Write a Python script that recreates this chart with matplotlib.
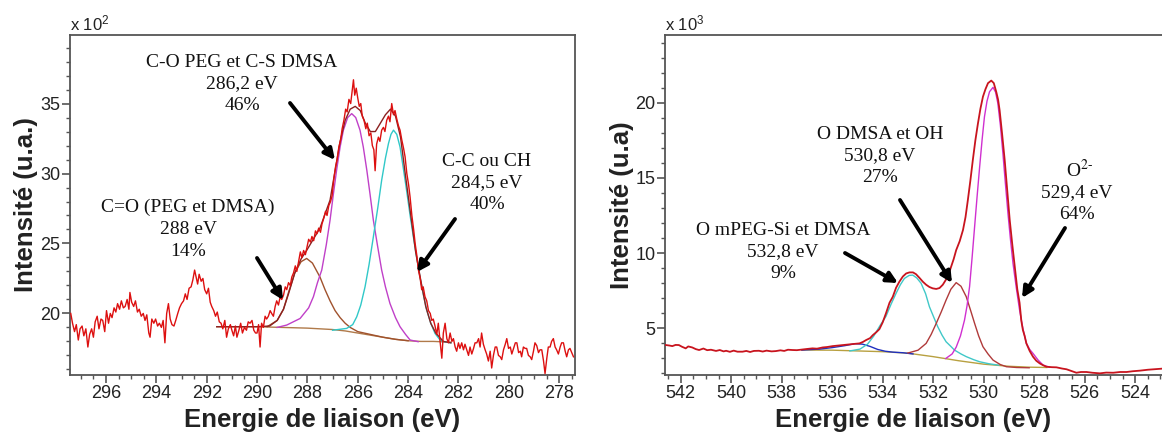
import matplotlib
matplotlib.use("Agg")
import matplotlib.pyplot as plt
from matplotlib.ticker import MultipleLocator

# ============================================================
#  DATA (C 1s left, O 1s right)
#  intensities in x10^2 (left) and x10^3 (right) counts
# ============================================================

# C 1s raw spectrum (energy eV, intensity)
c1s_raw = [
    (297.40, 20.0), (297.33, 19.3), (297.25, 18.7), (297.18, 19.2), (297.10, 18.1), (297.03, 18.9),
    (296.95, 19.1), (296.88, 18.4), (296.80, 18.9), (296.72, 17.6), (296.65, 18.5), (296.57, 18.9),
    (296.50, 18.3), (296.43, 19.4), (296.35, 19.8), (296.28, 18.9), (296.20, 19.6), (296.13, 19.5),
    (296.05, 18.7), (295.98, 20.2), (295.90, 19.3), (295.83, 20.0), (295.76, 19.7), (295.68, 20.4),
    (295.61, 20.1), (295.54, 20.7), (295.46, 20.3), (295.39, 20.9), (295.31, 20.4), (295.24, 20.5),
    (295.16, 21.0), (295.09, 20.3), (295.05, 21.5), (294.98, 20.8), (294.90, 20.5), (294.83, 20.9),
    (294.75, 20.1), (294.68, 20.3), (294.60, 19.8), (294.52, 20.0), (294.45, 19.5), (294.38, 19.9),
    (294.30, 18.6), (294.25, 18.3), (294.18, 19.6), (294.10, 19.3), (294.03, 19.6), (293.95, 19.1),
    (293.88, 19.3), (293.80, 19.0), (293.73, 19.5), (293.66, 17.9), (293.59, 20.0), (293.52, 20.7),
    (293.45, 19.6), (293.38, 19.2), (293.30, 19.1), (293.23, 19.5), (293.15, 20.0), (293.08, 20.4),
    (293.00, 20.7), (292.92, 20.9), (292.85, 21.4), (292.78, 21.0), (292.70, 21.8), (292.62, 21.9),
    (292.55, 22.4), (292.48, 23.1), (292.42, 22.6), (292.36, 22.1), (292.30, 22.8), (292.22, 22.3),
    (292.15, 22.5), (292.08, 21.7), (292.00, 21.4), (291.93, 21.8), (291.86, 20.8), (291.80, 20.5),
    (291.72, 20.2), (291.65, 19.8), (291.58, 20.1), (291.50, 19.4), (291.43, 19.3), (291.36, 18.9),
    (291.28, 19.5), (291.21, 18.3), (291.14, 18.9), (291.06, 19.2), (291.00, 18.8), (290.93, 18.4),
    (290.86, 19.1), (290.80, 18.3), (290.72, 18.8), (290.65, 19.3), (290.58, 18.6), (290.50, 19.0),
    (290.42, 18.8), (290.35, 19.4), (290.28, 19.3), (290.20, 19.5), (290.13, 18.8), (290.06, 18.6),
    (290.00, 18.6), (289.94, 19.2), (289.88, 17.6), (289.82, 19.3), (289.75, 19.0), (289.68, 19.8),
    (289.62, 19.6), (289.55, 19.8), (289.48, 20.2), (289.42, 20.0), (289.35, 19.8), (289.28, 20.5),
    (289.22, 20.9), (289.15, 20.6), (289.08, 21.2), (289.02, 21.0), (288.95, 21.3), (288.88, 21.9),
    (288.82, 21.7), (288.75, 22.2), (288.68, 22.0), (288.62, 22.6), (288.55, 22.9), (288.48, 23.4),
    (288.42, 23.0), (288.35, 23.7), (288.28, 24.4), (288.22, 24.0), (288.15, 24.5), (288.08, 24.2),
    (288.02, 24.7), (287.95, 25.3), (287.88, 25.1), (287.82, 25.5), (287.75, 25.2), (287.68, 25.9),
    (287.62, 25.7), (287.55, 26.1), (287.48, 25.8), (287.42, 26.4), (287.35, 26.8), (287.28, 27.3),
    (287.22, 27.0), (287.15, 27.7), (287.08, 28.0), (287.02, 28.4), (286.95, 29.6), (286.88, 30.5),
    (286.82, 31.0), (286.75, 31.9), (286.68, 32.4), (286.62, 33.2), (286.55, 33.8), (286.48, 34.6),
    (286.42, 34.4), (286.35, 35.3), (286.28, 35.0), (286.22, 35.9), (286.17, 36.7), (286.12, 35.6),
    (286.06, 36.1), (286.00, 35.4), (285.94, 34.8), (285.88, 35.0), (285.82, 34.1), (285.75, 33.8),
    (285.68, 33.2), (285.62, 33.6), (285.55, 32.7), (285.48, 32.9), (285.42, 32.0), (285.36, 31.7),
    (285.31, 30.2), (285.25, 32.1), (285.18, 32.6), (285.12, 32.3), (285.05, 33.1), (284.98, 33.3),
    (284.92, 33.0), (284.85, 33.8), (284.78, 34.1), (284.72, 33.7), (284.65, 35.0), (284.58, 34.2),
    (284.52, 34.5), (284.45, 33.9), (284.38, 33.4), (284.32, 33.1), (284.25, 32.4), (284.18, 31.8),
    (284.12, 31.2), (284.05, 30.0), (283.98, 29.2), (283.92, 28.3), (283.85, 27.0), (283.78, 26.0),
    (283.72, 25.0), (283.65, 24.1), (283.59, 23.1), (283.52, 22.5), (283.46, 21.7), (283.40, 21.9),
    (283.33, 21.2), (283.26, 20.9), (283.19, 20.2), (283.12, 20.0), (283.06, 19.5), (283.00, 19.6),
    (282.93, 19.1), (282.86, 18.5), (282.80, 19.3), (282.73, 18.0), (282.66, 16.8), (282.60, 18.6),
    (282.53, 19.3), (282.46, 18.2), (282.40, 17.9), (282.33, 18.6), (282.26, 18.0), (282.20, 18.2),
    (282.13, 17.6), (282.07, 17.3), (282.00, 17.9), (281.94, 17.5), (281.87, 17.9), (281.80, 17.4),
    (281.74, 17.8), (281.67, 17.4), (281.60, 17.0), (281.54, 17.6), (281.47, 17.1), (281.40, 17.5),
    (281.34, 17.9), (281.27, 17.9), (281.20, 18.2), (281.14, 17.6), (281.08, 18.6), (281.01, 17.8),
    (280.94, 17.4), (280.88, 17.1), (280.81, 16.6), (280.74, 17.3), (280.68, 16.1), (280.61, 17.0),
    (280.54, 17.6), (280.48, 17.6), (280.41, 17.0), (280.34, 16.9), (280.28, 16.7), (280.21, 17.4),
    (280.14, 17.8), (280.08, 18.2), (280.01, 17.5), (279.94, 17.6), (279.88, 17.1), (279.81, 17.5),
    (279.74, 17.9), (279.68, 17.9), (279.61, 17.2), (279.54, 17.3), (279.49, 16.9), (279.42, 17.6),
    (279.35, 17.5), (279.29, 17.5), (279.22, 17.0), (279.15, 16.9), (279.09, 16.7), (279.02, 17.3),
    (278.96, 17.9), (278.89, 17.7), (278.82, 17.2), (278.76, 17.4), (278.69, 17.4), (278.62, 16.6),
    (278.56, 15.7), (278.49, 16.8), (278.43, 17.6), (278.36, 17.6), (278.30, 18.0), (278.23, 18.2),
    (278.16, 17.6), (278.10, 17.4), (278.03, 17.1), (277.96, 17.6), (277.90, 17.9), (277.83, 17.9),
    (277.76, 17.3), (277.70, 16.9), (277.63, 17.4), (277.57, 17.5), (277.50, 17.2), (277.43, 16.9),
]

# fitted envelope (sum of components), mostly hidden under the raw data
c1s_envelope = [
    (291.6, 19.05), (290.0, 19.05), (289.5, 19.1), (289.2, 19.5), (288.95, 20.3), (288.75, 21.4),
    (288.5, 22.9), (288.25, 23.9), (288.03, 24.5), (287.8, 25.2), (287.5, 26.1), (287.3, 27.1),
    (287.1, 28.1), (286.9, 30.2), (286.7, 32.3), (286.5, 33.8), (286.3, 34.6), (286.1, 34.8),
    (285.9, 34.5), (285.7, 33.6), (285.5, 33.0), (285.3, 33.0), (285.1, 33.6), (284.9, 34.2),
    (284.7, 34.6), (284.5, 34.1), (284.3, 32.6), (284.1, 29.8), (283.9, 27.1), (283.7, 24.4),
    (283.5, 22.4), (283.3, 20.5), (283.1, 19.3), (282.9, 18.6), (282.6, 18.0), (282.3, 17.9),
]

c1s_baseline = [
    (291.6, 19.05), (290.0, 19.05), (289.0, 19.0), (288.0, 18.95), (287.0, 18.85), (286.5, 18.75),
    (286.0, 18.6), (285.5, 18.45), (285.0, 18.3), (284.5, 18.15), (284.0, 18.05), (283.5, 18.0),
    (283.0, 18.0), (282.3, 17.95),
]

# C=O (PEG et DMSA) 288 eV
c1s_co_double = [
    (289.6, 19.05), (289.2, 19.5), (288.95, 20.3), (288.75, 21.5), (288.5, 22.9), (288.25, 23.7),
    (288.03, 23.93), (287.8, 23.6), (287.5, 22.6), (287.3, 21.7), (287.1, 20.9), (286.9, 20.2),
    (286.7, 19.7), (286.5, 19.3), (286.3, 19.0), (286.0, 18.7), (285.5, 18.5), (285.0, 18.3),
    (284.5, 18.15), (284.0, 18.05),
]

# C-O PEG et C-S DMSA 286.2 eV
c1s_co_cs = [
    (289.2, 19.0), (288.82, 19.17), (288.29, 19.64), (287.95, 20.4), (287.76, 21.2), (287.6, 22.2),
    (287.43, 23.1), (287.25, 24.9), (287.1, 26.67), (286.97, 28.5), (286.84, 30.24), (286.7, 31.9),
    (286.57, 33.1), (286.4, 34.0), (286.24, 34.28), (286.08, 34.0), (285.91, 33.1), (285.78, 31.9),
    (285.64, 30.24), (285.51, 28.5), (285.38, 26.67), (285.22, 24.9), (285.05, 23.1), (284.9, 21.9),
    (284.72, 20.71), (284.5, 19.7), (284.32, 19.05), (284.1, 18.5), (283.92, 18.1), (283.6, 17.98),
]

# C-C ou CH 284.5 eV
c1s_cc = [
    (287.0, 18.8), (286.44, 18.93), (286.2, 19.2), (286.04, 19.76), (285.88, 20.6), (285.71, 21.9),
    (285.55, 23.5), (285.38, 25.47), (285.2, 27.6), (285.05, 29.52), (284.9, 31.1), (284.78, 32.14),
    (284.68, 32.8), (284.58, 33.1), (284.45, 32.8), (284.32, 31.9), (284.2, 30.5), (284.06, 28.8),
    (283.92, 27.0), (283.79, 25.47), (283.66, 24.0), (283.53, 22.62), (283.4, 21.4), (283.26, 20.24),
    (283.1, 19.3), (282.93, 18.57), (282.75, 18.15), (282.6, 17.98), (282.3, 17.9),
]

# O 1s raw spectrum
o1s_raw = [
    (542.62, 3.90), (542.45, 3.86), (542.33, 3.82), (542.20, 3.90), (542.07, 3.89), (541.95, 3.78),
    (541.80, 3.67), (541.70, 3.80), (541.54, 3.73), (541.40, 3.62), (541.27, 3.56), (541.10, 3.66),
    (540.95, 3.55), (540.80, 3.58), (540.60, 3.50), (540.45, 3.56), (540.30, 3.47), (540.20, 3.51),
    (540.05, 3.44), (539.90, 3.52), (539.75, 3.45), (539.55, 3.45), (539.40, 3.50), (539.25, 3.43),
    (539.10, 3.50), (538.90, 3.51), (538.75, 3.46), (538.60, 3.52), (538.40, 3.47), (538.23, 3.49),
    (538.05, 3.54), (537.90, 3.50), (537.75, 3.58), (537.57, 3.56), (537.40, 3.55), (537.17, 3.60),
    (537.00, 3.63), (536.78, 3.67), (536.60, 3.65), (536.38, 3.73), (536.20, 3.76), (535.98, 3.82),
    (535.80, 3.85), (535.58, 3.89), (535.40, 3.92), (535.19, 3.96), (535.05, 3.98), (534.92, 4.00),
    (534.78, 4.10), (534.66, 4.22), (534.50, 4.35), (534.39, 4.55), (534.25, 4.75), (534.13, 4.95),
    (534.00, 5.40), (533.87, 6.00), (533.73, 6.70), (533.60, 7.10), (533.47, 7.70), (533.34, 8.10),
    (533.20, 8.45), (533.07, 8.65), (532.94, 8.72), (532.80, 8.72), (532.68, 8.60), (532.54, 8.35),
    (532.41, 8.10), (532.28, 7.90), (532.15, 7.75), (532.02, 7.66), (531.88, 7.62), (531.75, 7.68),
    (531.62, 7.90), (531.49, 8.25), (531.38, 8.65), (531.29, 9.10), (531.19, 9.60), (531.09, 10.2),
    (530.95, 10.8), (530.82, 11.54), (530.72, 12.4), (530.63, 13.5), (530.53, 14.8), (530.43, 16.2),
    (530.33, 17.5), (530.23, 18.6), (530.13, 19.6), (530.03, 20.4), (529.93, 20.9), (529.83, 21.3),
    (529.70, 21.47), (529.60, 21.3), (529.50, 20.7), (529.43, 20.2), (529.37, 19.5), (529.27, 17.9),
    (529.17, 16.2), (529.07, 14.2), (528.97, 12.2), (528.87, 10.6), (528.77, 9.10), (528.67, 7.60),
    (528.58, 6.70), (528.51, 5.50), (528.45, 4.90), (528.38, 4.50), (528.31, 4.00), (528.18, 3.50),
    (528.05, 3.12), (527.92, 2.85), (527.78, 2.67), (527.65, 2.55), (527.52, 2.45), (527.30, 2.42),
    (527.12, 2.41), (526.90, 2.33), (526.72, 2.28), (526.50, 2.15), (526.33, 2.05), (526.15, 2.10),
    (525.93, 2.10), (525.70, 2.05), (525.40, 2.01), (525.15, 2.06), (524.87, 2.05), (524.60, 2.10),
    (524.34, 2.10), (524.10, 2.15), (523.81, 2.19), (523.50, 2.25), (523.28, 2.28), (522.95, 2.32),
]

o1s_baseline = [
    (537.2, 3.56), (536.0, 3.55), (535.0, 3.50), (534.0, 3.45), (533.0, 3.35), (532.0, 3.12),
    (531.0, 2.85), (530.0, 2.62), (529.0, 2.48), (528.2, 2.42), (527.5, 2.40),
]

# small component around 535 eV
o1s_small = [
    (537.2, 3.56), (536.5, 3.62), (536.0, 3.72), (535.5, 3.85), (535.1, 3.98), (534.8, 3.95),
    (534.5, 3.80), (534.2, 3.60), (533.9, 3.48), (533.6, 3.42), (533.2, 3.38), (532.8, 3.30),
]

# O mPEG-Si et DMSA 532.8 eV
o1s_mpeg = [
    (535.3, 3.50), (534.9, 3.62), (534.6, 3.95), (534.35, 4.5), (534.1, 5.2), (533.87, 5.8),
    (533.67, 6.6), (533.47, 7.33), (533.3, 7.9), (533.14, 8.32), (532.95, 8.52), (532.81, 8.54),
    (532.65, 8.35), (532.48, 8.0), (532.3, 7.3), (532.15, 6.44), (531.98, 5.75), (531.82, 5.11),
    (531.65, 4.55), (531.49, 4.11), (531.3, 3.8), (531.16, 3.56), (530.9, 3.3), (530.69, 3.12),
    (530.4, 2.92), (530.16, 2.78), (529.8, 2.65), (529.4, 2.55),
]

# O DMSA et OH 530.8 eV
o1s_oh = [
    (533.0, 3.36), (532.6, 3.55), (532.28, 4.0), (532.08, 4.6), (531.88, 5.33), (531.68, 6.1),
    (531.49, 6.88), (531.3, 7.6), (531.09, 8.04), (530.9, 7.8), (530.69, 7.1), (530.52, 6.2),
    (530.36, 5.33), (530.2, 4.5), (530.03, 3.78), (529.83, 3.3), (529.63, 2.89), (529.35, 2.6),
    (529.1, 2.45), (528.7, 2.4), (528.2, 2.38),
]

# O2- 529.4 eV
o1s_oxide = [
    (531.5, 3.0), (531.25, 3.3), (531.09, 3.75), (530.92, 4.5), (530.76, 5.55), (530.66, 6.5),
    (530.56, 7.77), (530.46, 9.7), (530.36, 11.76), (530.26, 13.8), (530.16, 15.75), (530.06, 17.6),
    (529.97, 19.07), (529.87, 20.1), (529.77, 20.73), (529.63, 21.02), (529.53, 20.7), (529.44, 19.96),
    (529.34, 18.5), (529.24, 16.64), (529.14, 14.6), (529.04, 12.65), (528.94, 10.9), (528.84, 9.32),
    (528.71, 7.7), (528.58, 6.22), (528.45, 5.0), (528.31, 4.0), (528.18, 3.6), (528.05, 3.34),
    (527.85, 2.9), (527.65, 2.56), (527.4, 2.42),
]

# ============================================================
#  FIGURE
# ============================================================

W, H = 1162, 434
SERIF = "Liberation Serif"
SANS = "Liberation Sans"
plt.rcParams["font.family"] = SANS
plt.rcParams["mathtext.fontset"] = "custom"
plt.rcParams["mathtext.rm"] = SANS
plt.rcParams["mathtext.it"] = SANS
plt.rcParams["mathtext.bf"] = SANS


def px_rect(left, top, right, bottom):
    return [left / W, 1 - bottom / H, (right - left) / W, (bottom - top) / H]


def fig_xy(x, y):
    return (x / W, 1 - y / H)


def draw(ax, pts, color, lw=1.0, z=2):
    xs, ys = zip(*pts)
    ax.plot(xs, ys, color=color, lw=lw, zorder=z)


def style_axes(ax):
    for s in ax.spines.values():
        s.set_color("#555555")
        s.set_linewidth(1.3)
    ax.xaxis.set_major_locator(MultipleLocator(2))
    ax.xaxis.set_minor_locator(MultipleLocator(0.5))
    ax.yaxis.set_major_locator(MultipleLocator(5))
    ax.yaxis.set_minor_locator(MultipleLocator(1))
    ax.tick_params(which="major", direction="out", length=5.5, width=1.2,
                   color="#555555", labelsize=13, labelcolor="#222222", pad=1.5)
    ax.tick_params(which="minor", direction="out", length=3, width=1.0, color="#555555")


fig = plt.figure(figsize=(W / 100, H / 100), dpi=100)

# ---------------- C 1s ----------------
ax1 = fig.add_axes(px_rect(70, 35, 575, 375))
draw(ax1, c1s_baseline, "#b07a4a", 1.0)
draw(ax1, c1s_co_double, "#a0522d", 1.0)
draw(ax1, c1s_co_cs, "#c040c8", 1.0)
draw(ax1, c1s_cc, "#30c8c8", 1.0)
draw(ax1, c1s_envelope, "#8b2020", 1.0)
draw(ax1, c1s_raw, "#dd1010", 1.0, z=3)
ax1.set_xlim(297.43, 277.37)
ax1.set_ylim(15.6, 39.9)
style_axes(ax1)
ax1.set_xlabel("Energie de liaison (eV)", fontsize=18.5, fontweight="bold", color="#222222")
ax1.xaxis.set_label_coords(0.5, -0.098)
ax1.set_ylabel("Intensité (u.a.)", fontsize=18.5, fontweight="bold", color="#222222")
ax1.yaxis.set_label_coords(-0.064, 0.5)
ax1.text(0.0, 1.005, r"x 10$^{2}$", transform=ax1.transAxes, fontsize=12,
         ha="left", va="bottom", color="#222222")

# ---------------- O 1s ----------------
ax2 = fig.add_axes(px_rect(665, 35, 1162, 375))
draw(ax2, o1s_baseline, "#b8a040", 1.0)
draw(ax2, o1s_small, "#2030c0", 1.0)
draw(ax2, o1s_mpeg, "#40c8c8", 1.0)
draw(ax2, o1s_oh, "#b03a3a", 1.0)
draw(ax2, o1s_oxide, "#d030d0", 1.0)
draw(ax2, o1s_raw, "#c8141e", 1.3, z=3)
ax2.set_xlim(542.62, 522.94)
ax2.set_ylim(1.9, 24.5)
style_axes(ax2)
ax2.spines["right"].set_visible(False)
ax2.set_xlabel("Energie de liaison (eV)", fontsize=18.5, fontweight="bold", color="#222222")
ax2.xaxis.set_label_coords(0.5, -0.098)
ax2.set_ylabel("Intensité (u.a)", fontsize=18.5, fontweight="bold", color="#222222")
ax2.yaxis.set_label_coords(-0.062, 0.5)
ax2.text(0.0, 1.005, r"x 10$^{3}$", transform=ax2.transAxes, fontsize=12,
         ha="left", va="bottom", color="#222222")

# ---------------- annotations ----------------
labels = [
    ("C-O PEG et C-S DMSA\n286,2 eV\n46%", 242, 84),
    ("C=O (PEG et DMSA)\n288 eV\n14%", 188, 229),
    ("C-C ou CH\n284,5 eV\n40%", 487, 183),
    ("O mPEG-Si et DMSA\n532,8 eV\n9%", 783, 252),
    ("O DMSA et OH\n530,8 eV\n27%", 880, 156),
    ("529,4 eV\n64%", 1077, 204),
]
for s, x, y in labels:
    fig.text(*fig_xy(x, y), s, ha="center", va="center", fontsize=14,
             family=SERIF, linespacing=1.38, color="#111111")
fig.text(*fig_xy(1080, 170), r"O$^{2\text{-}}$", ha="center", va="center",
         fontsize=14, family=SERIF, math_fontfamily="stix", color="#111111")

arrows = [
    ((290, 103), (335, 160)),
    ((257, 258), (283, 300)),
    ((455, 219), (417, 272)),
    ((845, 253), (898, 283)),
    ((900, 200), (952, 283)),
    ((1065, 228), (1022, 298)),
]
for tail, tip in arrows:
    fig.add_artist(plt.Annotation(
        "", xy=fig_xy(*tip), xytext=fig_xy(*tail), xycoords="figure fraction",
        arrowprops=dict(arrowstyle="-|>", color="black", lw=2.8,
                        mutation_scale=16, shrinkA=0, shrinkB=0)))

fig.savefig("out.png", dpi=100)
